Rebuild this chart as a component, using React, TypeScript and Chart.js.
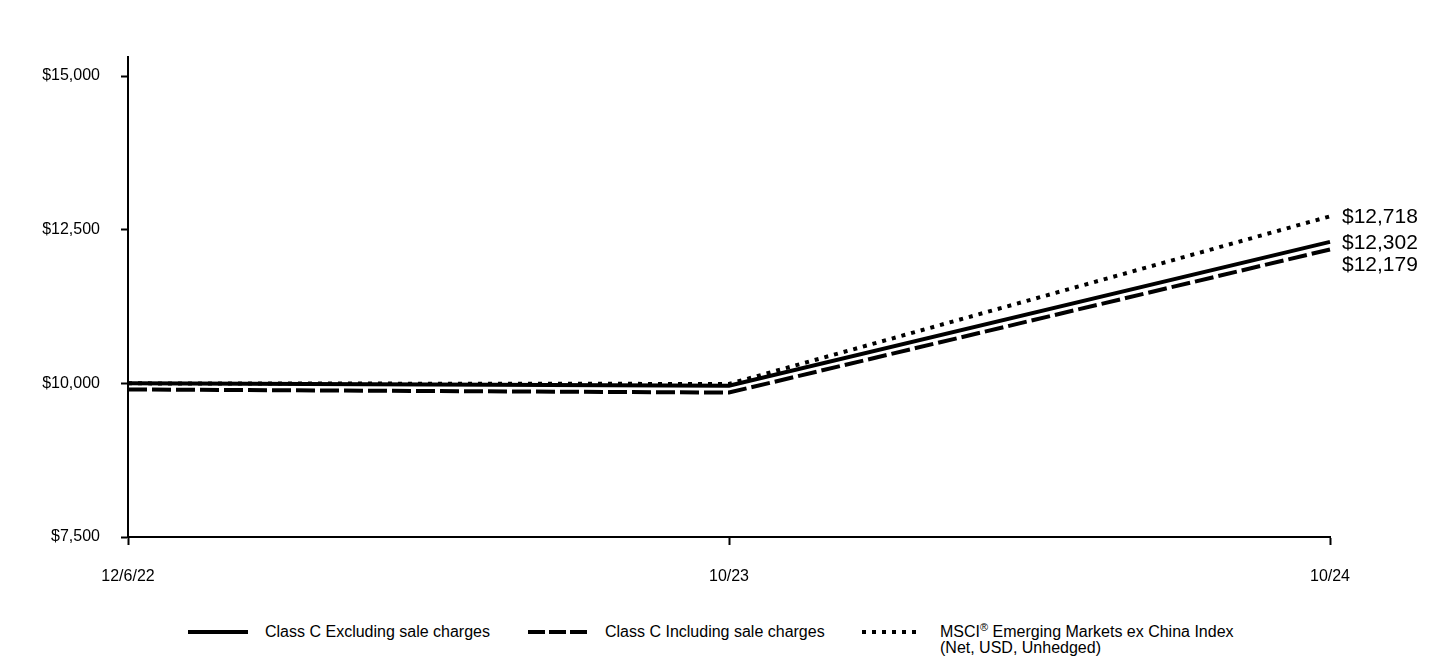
import React, { useEffect, useRef } from "react";
import { Chart, registerables } from "chart.js";

Chart.register(...registerables);

const categories = ["12/6/22", "10/23", "10/24"];
const classCExcluding = [10000, 9960, 12302];
const classCIncluding = [9900, 9850, 12179];
const msciIndex = [10000, 9990, 12718];
const yTicks = [7500, 10000, 12500, 15000];
const endLabels = ["$12,302", "$12,179", "$12,718"];

const FONT = "Arial, 'Liberation Sans', sans-serif";

const endLabelPlugin = {
  id: "endLabels",
  afterDatasetsDraw(chart: any) {
    const ctx = chart.ctx;
    const items: { y: number; text: string }[] = [];
    chart.data.datasets.forEach((ds: any, i: number) => {
      const meta = chart.getDatasetMeta(i);
      const pt = meta.data[meta.data.length - 1];
      items.push({ y: pt.y, text: endLabels[i] });
    });
    items.sort((a, b) => a.y - b.y);
    for (let i = 1; i < items.length; i++) {
      if (items[i].y - items[i - 1].y < 22) items[i].y = items[i - 1].y + 22;
    }
    const x = chart.chartArea.right + 12;
    ctx.save();
    ctx.font = `21px ${FONT}`;
    ctx.fillStyle = "#000";
    ctx.textAlign = "left";
    ctx.textBaseline = "middle";
    items.forEach((it) => ctx.fillText(it.text, x, it.y + 1));
    ctx.restore();
  },
};

function LegendLine({ dash }: { dash: string }) {
  return (
    <svg width={62} height={8} style={{ display: "block" }}>
      <line x1={0} y1={4} x2={60} y2={4} stroke="#000" strokeWidth={4} strokeDasharray={dash} />
    </svg>
  );
}

export default function App() {
  const ref = useRef<HTMLCanvasElement | null>(null);

  useEffect(() => {
    const prevMargin = document.body.style.margin;
    document.body.style.margin = "0";
    if (!ref.current) return;
    const chart = new Chart(ref.current, {
      type: "line",
      data: {
        labels: categories,
        datasets: [
          {
            label: "Class C Excluding sale charges",
            data: classCExcluding,
            borderColor: "#000",
            borderWidth: 4,
            pointRadius: 0,
            tension: 0,
            order: 2,
          },
          {
            label: "Class C Including sale charges",
            data: classCIncluding,
            borderColor: "#000",
            borderWidth: 4,
            borderDash: [19, 5],
            pointRadius: 0,
            tension: 0,
            order: 3,
          },
          {
            label: "MSCI Emerging Markets ex China Index (Net, USD, Unhedged)",
            data: msciIndex,
            borderColor: "#000",
            borderWidth: 4,
            borderDash: [4, 6],
            borderCapStyle: "butt",
            pointRadius: 0,
            tension: 0,
            order: 1,
          },
        ],
      },
      options: {
        animation: false,
        responsive: false,
        maintainAspectRatio: false,
        layout: { padding: { left: 0, right: 110, top: 57, bottom: 0 } },
        plugins: { legend: { display: false }, tooltip: { enabled: false } },
        scales: {
          x: {
            type: "category",
            offset: false,
            grid: {
              drawOnChartArea: false,
              drawTicks: true,
              tickLength: 8,
              tickWidth: 2,
              tickColor: "#000",
            },
            border: { color: "#000", width: 2 },
            ticks: {
              color: "#000",
              font: { family: FONT, size: 16 },
              padding: 22,
              maxRotation: 0,
              autoSkip: false,
            },
            afterFit: (s: any) => {
              s.height = 63;
            },
          },
          y: {
            min: 7500,
            max: 15310,
            afterBuildTicks: (s: any) => {
              s.ticks = yTicks.map((v) => ({ value: v }));
            },
            grid: {
              drawOnChartArea: false,
              drawTicks: true,
              tickLength: 7,
              tickWidth: 2,
              tickColor: "#000",
            },
            border: { color: "#000", width: 2 },
            ticks: {
              color: "#000",
              font: { family: FONT, size: 16 },
              padding: 21,
              callback: (v: any) => "$" + Number(v).toLocaleString("en-US"),
            },
            afterFit: (s: any) => {
              s.width = 128;
            },
          },
        },
      },
      plugins: [endLabelPlugin],
    });
    return () => {
      chart.destroy();
      document.body.style.margin = prevMargin;
    };
  }, []);

  const textStyle: React.CSSProperties = {
    fontFamily: FONT,
    fontSize: 16,
    color: "#000",
    lineHeight: "16px",
  };

  return (
    <div style={{ position: "absolute", left: 0, top: 0, width: 1440, height: 660, background: "#fff" }}>
      <canvas ref={ref} width={1440} height={600} style={{ display: "block", width: 1440, height: 600 }} />
      <div style={{ position: "absolute", left: 188, top: 624, display: "flex", alignItems: "center" }}>
        <LegendLine dash="none" />
        <span style={{ ...textStyle, marginLeft: 15 }}>Class C Excluding sale charges</span>
      </div>
      <div style={{ position: "absolute", left: 528, top: 624, display: "flex", alignItems: "center" }}>
        <LegendLine dash="17 4" />
        <span style={{ ...textStyle, marginLeft: 15 }}>Class C Including sale charges</span>
      </div>
      <div style={{ position: "absolute", left: 862, top: 624, display: "flex", alignItems: "flex-start" }}>
        <div style={{ marginTop: 4 }}>
          <LegendLine dash="4 6" />
        </div>
        <span style={{ ...textStyle, marginLeft: 16 }}>
          MSCI<sup style={{ fontSize: 11, lineHeight: 0 }}>®</sup> Emerging Markets ex China Index
          <br />
          (Net, USD, Unhedged)
        </span>
      </div>
    </div>
  );
}
